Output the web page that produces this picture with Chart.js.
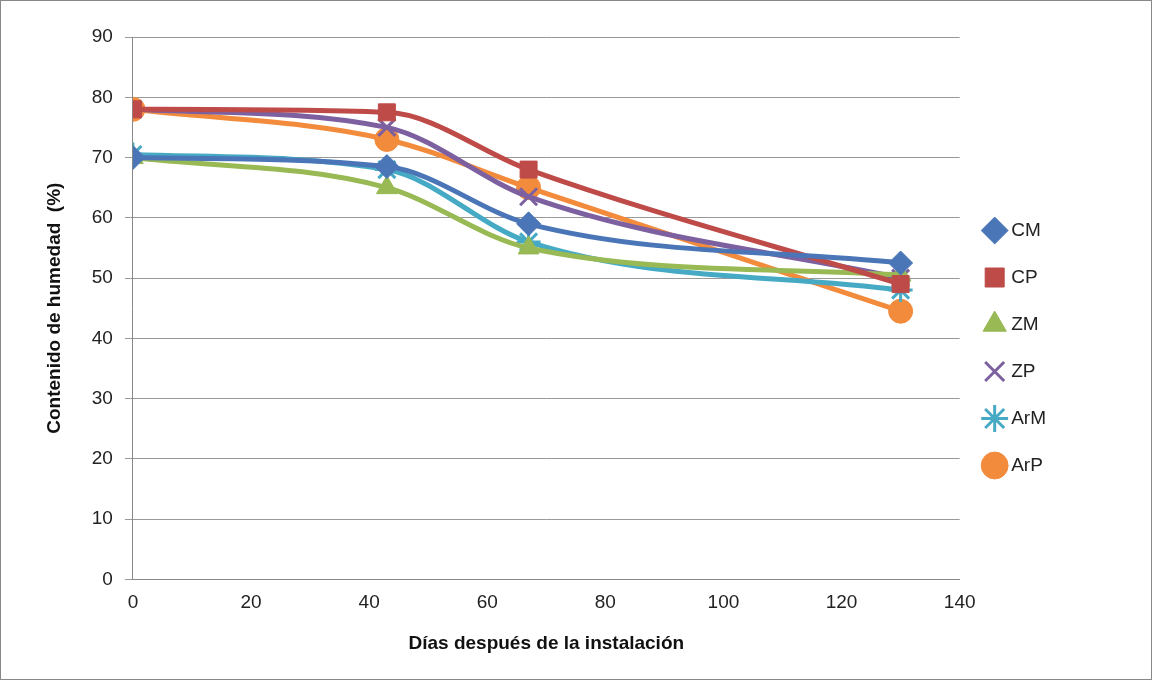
<!DOCTYPE html>
<html>
<head>
<meta charset="utf-8">
<script src="https://cdn.jsdelivr.net/npm/chart.js@4"></script>
<style>
  body { margin: 0; background: #fff; }
  #wrap { width: 1150px; height: 678px; border: 1px solid #888; }
</style>
</head>
<body>
<div id="wrap"><canvas id="chart" width="1150" height="678"></canvas></div>
<script>
const days = [0, 43, 67, 130];
const seriesNames = ['CM', 'CP', 'ZM', 'ZP', 'ArM', 'ArP'];
const cmValues  = [70, 68.5, 59, 52.5];
const cpValues  = [78, 77.5, 68, 49];
const zmValues  = [70, 65, 55, 50.5];
const zpValues  = [78, 75, 63.5, 50];
const armValues = [70.5, 68, 56, 48];
const arpValues = [78, 73, 65, 44.5];

const colors = ['#4a76b8', '#be4b48', '#98b954', '#7d60a0', '#46aac5', '#f38b3c'];
const styles = ['rectRot', 'rect', 'triangle', 'crossRot', 'star', 'circle'];
const allValues = [cmValues, cpValues, zmValues, zpValues, armValues, arpValues];

const datasets = seriesNames.map((name, i) => ({
    label: name,
    data: days.map((d, j) => ({ x: d, y: allValues[i][j] })),
    borderColor: colors[i],
    backgroundColor: colors[i],
    borderWidth: 5,
    pointStyle: styles[i],
    pointRadius: 12,
    pointBorderWidth: styles[i] === 'crossRot' || styles[i] === 'star' ? 3 : 1,
    tension: 0.4,
    cubicInterpolationMode: 'monotone'
}));

new Chart(document.getElementById('chart').getContext('2d'), {
    type: 'line',
    data: { datasets: datasets },
    options: {
        responsive: false,
        animation: false,
        layout: { padding: { top: 36, right: 95, left: 38, bottom: 20 } },
        plugins: {
            legend: {
                position: 'right',
                labels: {
                    usePointStyle: true,
                    font: { family: 'Liberation Sans', size: 19 },
                    color: '#222',
                    padding: 28,
                    boxWidth: 14
                }
            },
            tooltip: { enabled: false }
        },
        scales: {
            x: {
                type: 'linear', min: 0, max: 140,
                ticks: { stepSize: 20, padding: 4, font: { family: 'Liberation Sans', size: 19 }, color: '#222' },
                grid: { display: false },
                border: { color: '#888' },
                title: { display: true, text: 'Días después de la instalación', padding: { top: 14 },
                    font: { family: 'Liberation Sans', size: 19, weight: 'bold' }, color: '#111' }
            },
            y: {
                min: 0, max: 90,
                ticks: { stepSize: 10, padding: 12, font: { family: 'Liberation Sans', size: 19 }, color: '#222' },
                grid: { color: '#999' },
                border: { color: '#888' },
                title: { display: true, text: 'Contenido de humedad  (%)', padding: { bottom: 14 },
                    font: { family: 'Liberation Sans', size: 19, weight: 'bold' }, color: '#111' }
            }
        }
    }
});
</script>
</body>
</html>
